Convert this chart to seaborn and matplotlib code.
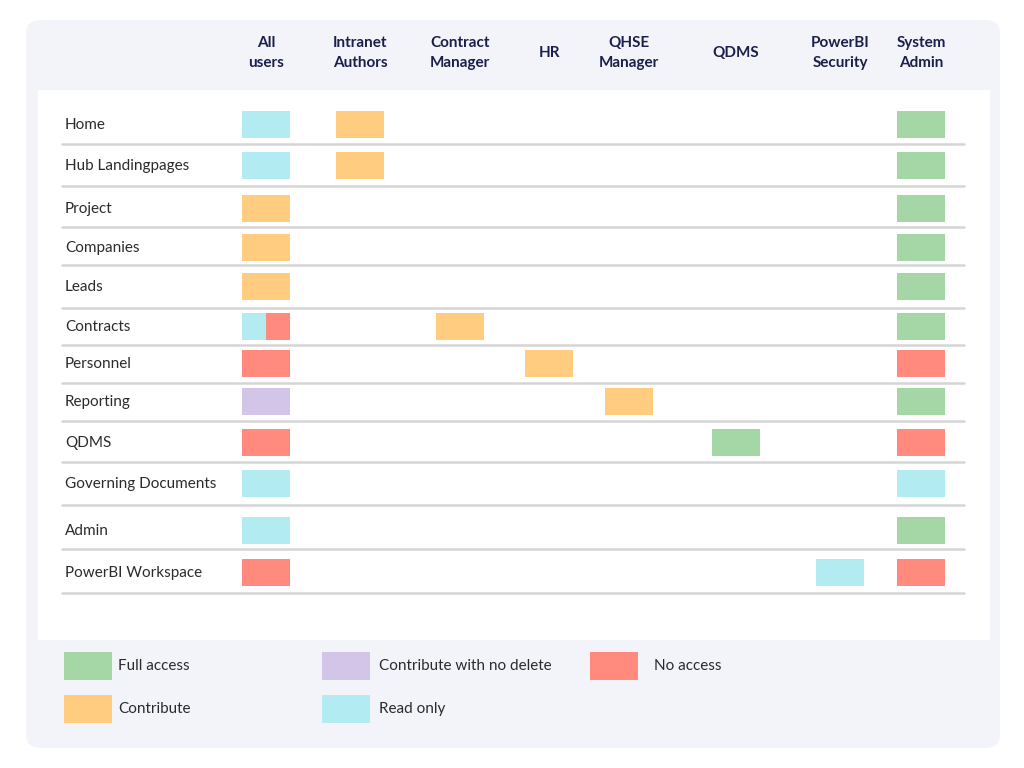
import matplotlib.pyplot as plt
import seaborn as sns
from matplotlib.patches import FancyBboxPatch, Rectangle

sns.set_theme(style="white")
plt.rcParams["font.family"] = ["Lato", "DejaVu Sans"]

# --- data ---
roles = ["All\nusers", "Intranet\nAuthors", "Contract\nManager", "HR", "QHSE\nManager",
         "QDMS", "PowerBI\nSecurity", "System\nAdmin"]
areas = ["Home", "Hub Landingpages", "Project", "Companies", "Leads", "Contracts",
         "Personnel", "Reporting", "QDMS", "Governing Documents", "Admin", "PowerBI Workspace"]
access_levels = ["Full access", "Contribute with no delete", "No access", "Contribute", "Read only"]
# role index -> access; a list means the cell is split between levels
all_users = ["Read only", "Read only", "Contribute", "Contribute", "Contribute",
             ["Read only", "No access"], "No access", "Contribute with no delete",
             "No access", "Read only", "Read only", "No access"]
system_admin = ["Full access", "Full access", "Full access", "Full access", "Full access",
                "Full access", "No access", "Full access", "No access", "Read only",
                "Full access", "No access"]
other_cells = [("Home", 1, "Contribute"), ("Hub Landingpages", 1, "Contribute"),
               ("Contracts", 2, "Contribute"), ("Personnel", 3, "Contribute"),
               ("Reporting", 4, "Contribute"), ("QDMS", 5, "Full access"),
               ("PowerBI Workspace", 6, "Read only")]

# --- styling / layout ---
palette = {"Full access": "#a5d6a5", "Contribute": "#ffcc80", "Read only": "#b3ebf2",
           "No access": "#ff8a7d", "Contribute with no delete": "#d2c5e8"}
col_x = [266, 360, 460, 549, 629, 736, 840, 921]
row_y = [124, 165, 208, 247, 286, 326, 363, 401, 442, 483, 530, 572]
sep_y = [144, 186, 227, 265, 308, 345, 383, 421, 462, 505, 549, 593]
cw, ch = 48, 27
navy = "#1b1f4b"

fig = plt.figure(figsize=(10.24, 7.68), dpi=100)
fig.patch.set_facecolor("white")
bg = fig.add_axes([0, 0, 1, 1])
bg.set_xlim(0, 1024); bg.set_ylim(768, 0); bg.axis("off")
bg.add_patch(FancyBboxPatch((26, 20), 974, 728, boxstyle="round,pad=0,rounding_size=14",
                            facecolor="#f3f4fa", edgecolor="none"))
bg.add_patch(Rectangle((38, 90), 952, 550, facecolor="white", edgecolor="none"))

for x, r in zip(col_x, roles):
    bg.text(x, 53, r, ha="center", va="center", fontsize=11, fontweight="bold",
            color=navy, linespacing=1.5)

def cell(x, y, levels):
    if isinstance(levels, str):
        levels = [levels]
    w = cw / len(levels)
    for i, lv in enumerate(levels):
        bg.add_patch(Rectangle((x - cw / 2 + i * w, y - ch / 2), w, ch,
                               facecolor=palette[lv], edgecolor="none"))

for i, a in enumerate(areas):
    bg.text(65, row_y[i] + 1, a, ha="left", va="center", fontsize=11, color="#2b2b2b")
    bg.plot([62, 964], [sep_y[i], sep_y[i]], color="#d5d5d5", lw=1.8)
    cell(col_x[0], row_y[i], all_users[i])
    cell(col_x[7], row_y[i], system_admin[i])
for a, c, lv in other_cells:
    cell(col_x[c], row_y[areas.index(a)], lv)

# legend
leg_pos = [(64, 666), (322, 666), (590, 666), (64, 709), (322, 709)]
leg_text_dx = [54, 57, 64, 54, 57]
for (lx, ly), dx, lv in zip(leg_pos, leg_text_dx, access_levels):
    bg.add_patch(Rectangle((lx, ly - 14), 48, 28, facecolor=palette[lv], edgecolor="none"))
    bg.text(lx + dx, ly, lv, ha="left", va="center", fontsize=11, color="#2b2b2b")

fig.savefig("out.png", dpi=100)
